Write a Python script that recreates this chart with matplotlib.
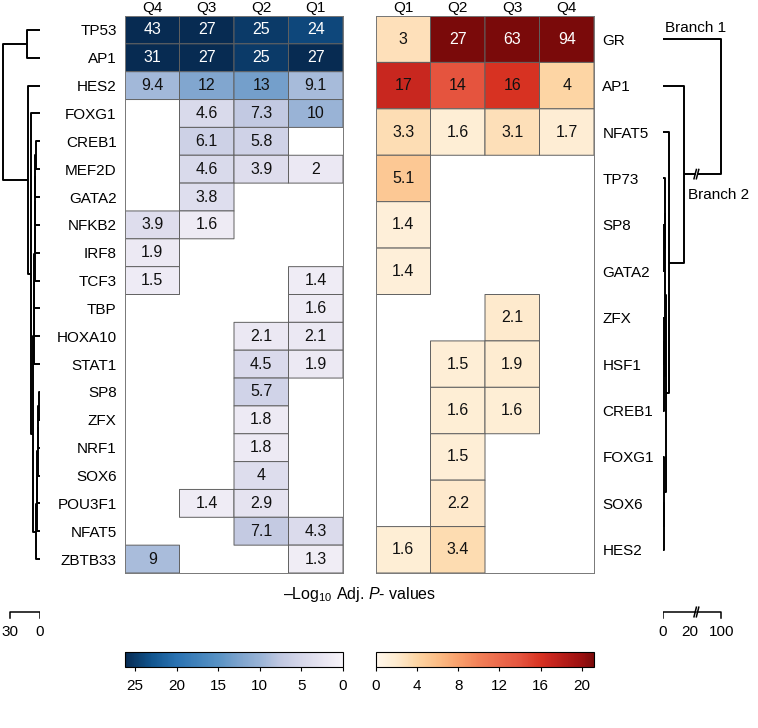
import numpy as np
import matplotlib
matplotlib.use("Agg")
import matplotlib.pyplot as plt
from matplotlib.colors import LinearSegmentedColormap, Normalize
from matplotlib.cm import ScalarMappable

plt.rcParams['font.family'] = ['Liberation Sans', 'DejaVu Sans']
plt.rcParams['mathtext.fontset'] = 'custom'
plt.rcParams['mathtext.rm'] = 'Liberation Sans'
plt.rcParams['mathtext.it'] = 'Liberation Sans:italic'

nan = np.nan

# ---- data ----
left_rows = ["TP53", "AP1", "HES2", "FOXG1", "CREB1", "MEF2D", "GATA2", "NFKB2", "IRF8", "TCF3",
             "TBP", "HOXA10", "STAT1", "SP8", "ZFX", "NRF1", "SOX6", "POU3F1", "NFAT5", "ZBTB33"]
left_cols = ["Q4", "Q3", "Q2", "Q1"]
left_vals = np.array([
    [43, 27, 25, 24],
    [31, 27, 25, 27],
    [9.4, 12, 13, 9.1],
    [nan, 4.6, 7.3, 10],
    [nan, 6.1, 5.8, nan],
    [nan, 4.6, 3.9, 2],
    [nan, 3.8, nan, nan],
    [3.9, 1.6, nan, nan],
    [1.9, nan, nan, nan],
    [1.5, nan, nan, 1.4],
    [nan, nan, nan, 1.6],
    [nan, nan, 2.1, 2.1],
    [nan, nan, 4.5, 1.9],
    [nan, nan, 5.7, nan],
    [nan, nan, 1.8, nan],
    [nan, nan, 1.8, nan],
    [nan, nan, 4, nan],
    [nan, 1.4, 2.9, nan],
    [nan, nan, 7.1, 4.3],
    [9, nan, nan, 1.3],
])

right_rows = ["GR", "AP1", "NFAT5", "TP73", "SP8", "GATA2", "ZFX", "HSF1", "CREB1", "FOXG1", "SOX6", "HES2"]
right_cols = ["Q1", "Q2", "Q3", "Q4"]
right_vals = np.array([
    [3, 27, 63, 94],
    [17, 14, 16, 4],
    [3.3, 1.6, 3.1, 1.7],
    [5.1, nan, nan, nan],
    [1.4, nan, nan, nan],
    [1.4, nan, nan, nan],
    [nan, nan, 2.1, nan],
    [nan, 1.5, 1.9, nan],
    [nan, 1.6, 1.6, nan],
    [nan, 1.5, nan, nan],
    [nan, 2.2, nan, nan],
    [1.6, 3.4, nan, nan],
])

# dendrogram merges: (child a, child b, height); leaves 0..n-1, new clusters n, n+1, ...
left_merges = [
    (0, 1, 13),
    (4, 5, 4), (21, 6, 4.5), (22, 7, 5), (23, 8, 5.2), (24, 9, 5.4),
    (25, 10, 5.6), (26, 11, 5.8), (27, 12, 6),
    (13, 14, 1), (29, 15, 1.5), (30, 16, 2), (31, 17, 2.5), (32, 18, 3), (33, 19, 3.5),
    (28, 34, 7), (3, 35, 9), (2, 36, 12), (20, 37, 37),
]
right_merges = [
    (4, 5, 0.8), (3, 12, 1.2),
    (6, 7, 0.6), (14, 8, 0.9), (13, 15, 1.5),
    (10, 11, 0.8), (9, 17, 1.0),
    (16, 18, 2.0), (2, 19, 4.5), (1, 20, 16), (0, 21, 100),
]

left_cbar_max = 26.2
right_cbar_max = 21.2
left_cbar_ticks = [0, 5, 10, 15, 20, 25]
right_cbar_ticks = [0, 4, 8, 12, 16, 20]

# ---- colours ----
blue_stops = [(0, "#f7f4f9"), (2, "#ebe8f3"), (5, "#d6d7ea"), (7.5, "#c0c8e1"), (10, "#98b3d6"),
              (12.5, "#7ca3cd"), (15, "#5892c4"), (20, "#2a72b2"), (23, "#11558f"), (26.2, "#072b52")]
red_stops = [(0, "#fff7ec"), (2, "#feebcf"), (4, "#fdd5a4"), (6, "#fcbd86"), (8, "#f9a06c"),
             (10, "#f28058"), (12, "#ec6a4c"), (14, "#e5553f"), (16, "#d83322"), (17, "#c9271f"),
             (20, "#9c1010"), (21.2, "#7a0a0a")]


def make_cmap(name, stops):
    top = stops[-1][0]
    return LinearSegmentedColormap.from_list(name, [(v / top, c) for v, c in stops])


cmap_blue = make_cmap("blu", blue_stops)
cmap_red = make_cmap("red", red_stops)
norm_blue = Normalize(0, left_cbar_max)
norm_red = Normalize(0, right_cbar_max)

W, H = 758, 728
fig = plt.figure(figsize=(W / 100, H / 100), dpi=100)


def px_axes(l, t, w, h):
    return fig.add_axes([l / W, 1 - (t + h) / H, w / W, h / H])


TOP, BOT = 16, 573
FS = 11
edge = "#606060"


def heatmap(ax, vals, rows, cols, cmap, norm, label_side):
    nr, nc = vals.shape
    m = np.ma.masked_invalid(vals)
    ax.pcolor(np.arange(nc + 1) - 0.5, np.arange(nr + 1) - 0.5, m, cmap=cmap, norm=norm,
              edgecolors=edge, linewidth=0.7)
    ax.set_xlim(-0.5, nc - 0.5)
    ax.set_ylim(nr - 0.5, -0.5)
    for r in range(nr):
        for c in range(nc):
            v = vals[r, c]
            if np.isnan(v):
                continue
            col = "white" if v > 20 else "#111111"
            ax.text(c, r, "%g" % v, ha="center", va="center", fontsize=FS + 0.5, color=col)
    ax.set_xticks(range(nc))
    ax.set_xticklabels(cols, fontsize=FS)
    ax.xaxis.tick_top()
    ax.tick_params(axis="x", length=0, pad=0.5)
    ax.set_yticks(range(nr))
    ax.set_yticklabels(rows, fontsize=FS)
    if label_side == "right":
        ax.yaxis.tick_right()
    ax.tick_params(axis="y", length=0, pad=6)
    for s in ax.spines.values():
        s.set_color("#777777")
        s.set_linewidth(0.7)


axL = px_axes(125, TOP, 218, BOT - TOP)
heatmap(axL, left_vals, left_rows, left_cols, cmap_blue, norm_blue, "left")
axR = px_axes(376, TOP, 218, BOT - TOP)
heatmap(axR, right_vals, right_rows, right_cols, cmap_red, norm_red, "right")


def draw_tree(ax, merges, n, xf):
    pos = {i: float(i) for i in range(n)}
    hgt = {i: 0.0 for i in range(n)}
    for k, (a, b, h) in enumerate(merges):
        ax.plot([xf(hgt[a]), xf(h), xf(h), xf(hgt[b])], [pos[a], pos[a], pos[b], pos[b]],
                color="black", lw=1.4, solid_capstyle="butt", clip_on=False)
        pos[n + k] = (pos[a] + pos[b]) / 2
        hgt[n + k] = h
    return pos


def lin(d):
    return d


def brk(d):
    return 1.33 * d if d <= 25 else 33.25 + (d - 25) / 3.0


# left dendrogram
axDL = px_axes(2.5, TOP, 37.5, BOT - TOP)
draw_tree(axDL, left_merges, len(left_rows), lin)
axDL.set_xlim(37.5, 0)
axDL.set_ylim(len(left_rows) - 0.5, -0.5)
axDL.axis("off")

# right dendrogram
axDR = px_axes(663, TOP, 60, BOT - TOP)
posR = draw_tree(axDR, right_merges, len(right_rows), brk)
axDR.set_xlim(0, 60)
axDR.set_ylim(len(right_rows) - 0.5, -0.5)
axDR.axis("off")
b2 = posR[len(right_rows) + 9]
axDR.plot([brk(24.5), brk(30)], [b2, b2], color="white", lw=3, solid_capstyle="butt", zorder=3)
for xs in (brk(24.2), brk(29)):
    axDR.plot([xs - 1.2, xs + 1.2], [b2 + 0.1, b2 - 0.1], color="black", lw=1.1, zorder=4)
axDR.text(2, -0.24, "Branch 1", fontsize=FS, ha="left", va="center")
axDR.text(25, b2 + 0.45, "Branch 2", fontsize=FS, ha="left", va="center")

# scale bars
axSL = px_axes(2.5, 600, 37.5, 40)
axSL.set_xlim(37.5, 0)
axSL.set_ylim(0, 1)
axSL.axis("off")
axSL.plot([30, 30, 0, 0], [0.55, 0.7, 0.7, 0.55], color="black", lw=1.1)
axSL.text(30, 0.2, "30", fontsize=FS, ha="center", va="center")
axSL.text(0, 0.2, "0", fontsize=FS, ha="center", va="center")

axSR = px_axes(663, 600, 60, 40)
axSR.set_xlim(0, 60)
axSR.set_ylim(0, 1)
axSR.axis("off")
axSR.plot([brk(0), brk(0), brk(24.5)], [0.55, 0.7, 0.7], color="black", lw=1.1)
axSR.plot([brk(30), brk(100), brk(100)], [0.7, 0.7, 0.55], color="black", lw=1.1)
for xs in (brk(24.2), brk(29)):
    axSR.plot([xs - 1.2, xs + 1.2], [0.58, 0.82], color="black", lw=1.1)
for d in (0, 20, 100):
    axSR.text(brk(d), 0.2, str(d), fontsize=FS, ha="center", va="center")

fig.text(360 / W, 1 - 594 / H, r"–Log$_{10}$ Adj. $\mathit{P}$- values", fontsize=FS + 0.5,
         ha="center", va="center")

# colorbars
caxL = px_axes(125, 652, 218, 15)
cbL = fig.colorbar(ScalarMappable(norm=norm_blue, cmap=cmap_blue), cax=caxL, orientation="horizontal")
caxL.invert_xaxis()
cbL.set_ticks(left_cbar_ticks)
caxR = px_axes(376, 652, 218, 15)
cbR = fig.colorbar(ScalarMappable(norm=norm_red, cmap=cmap_red), cax=caxR, orientation="horizontal")
cbR.set_ticks(right_cbar_ticks)
for cb in (cbL, cbR):
    cb.outline.set_linewidth(0.8)
    cb.ax.tick_params(labelsize=FS, length=3, width=0.8, pad=6)

fig.savefig("out.png", dpi=100)
